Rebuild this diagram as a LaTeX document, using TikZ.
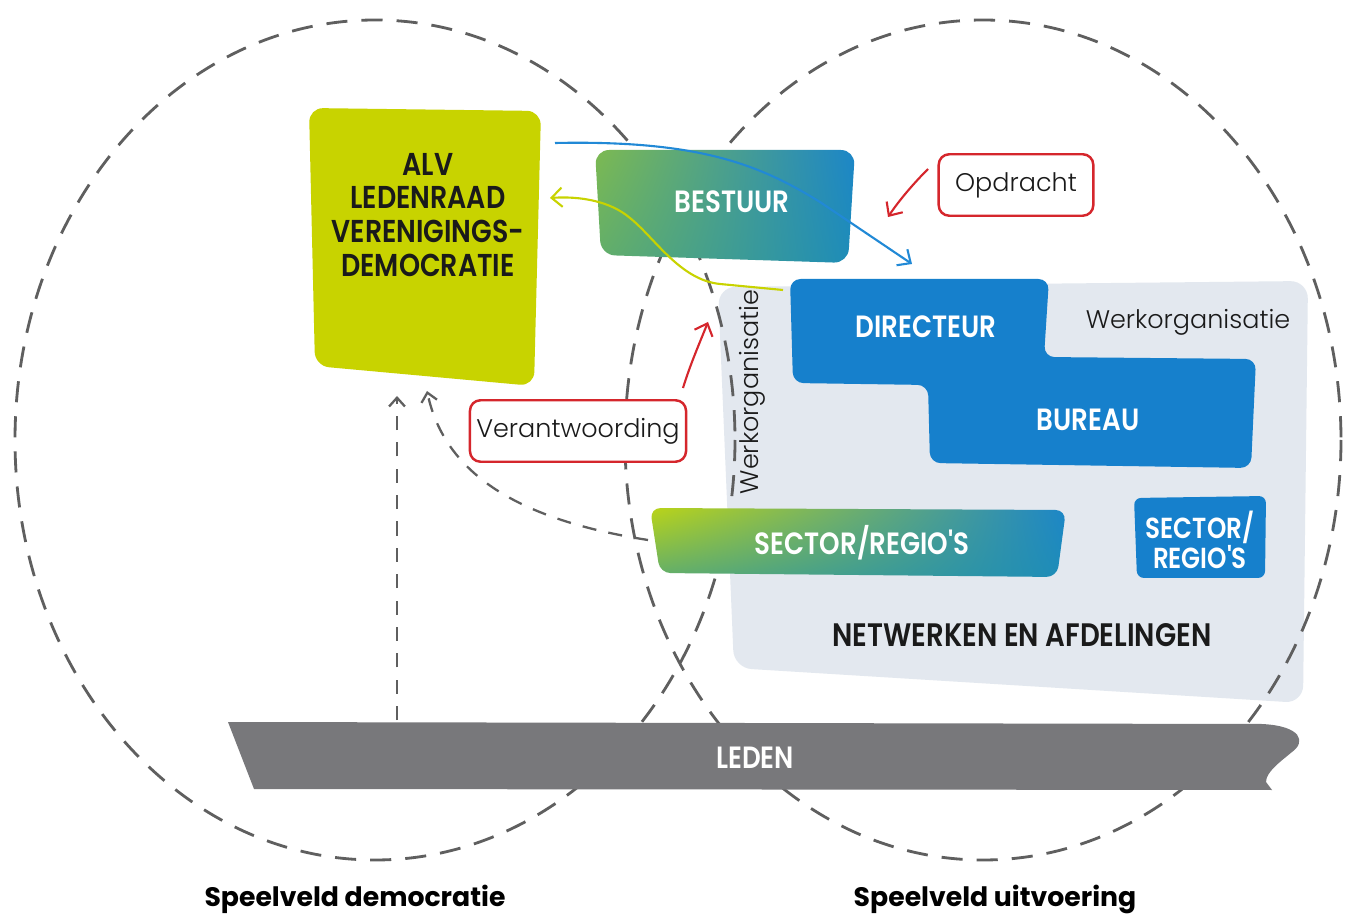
\documentclass[tikz,border=0pt]{standalone}
\usepackage{fontspec}
\setmainfont{Poppins}
\newfontfamily\capsfont[FakeStretch=0.85, BoldFont={Poppins SemiBold}]{Poppins}
\newfontfamily\thinfont{Poppins Light}
\usetikzlibrary{arrows.meta,shadings}
\definecolor{alvgreen}{HTML}{C8D300}
\definecolor{orgblue}{HTML}{1680CC}
\definecolor{orgbg}{HTML}{E3E8EF}
\definecolor{ledengrey}{HTML}{78787B}
\definecolor{dashgrey}{HTML}{5F5F5F}
\definecolor{notered}{HTML}{D5262C}
\definecolor{arrowblue}{HTML}{2189D6}
\definecolor{inkdark}{HTML}{1A1A1A}
\definecolor{gradlime}{HTML}{BAD418}
\definecolor{gradgreen}{HTML}{62AE6A}
\definecolor{gradteal}{HTML}{1D8CB9}
\definecolor{gradblue}{HTML}{1C86C8}
\tikzset{
  ring/.style={draw=dashgrey, line width=1.6pt, dash pattern=on 12pt off 8pt},
  upline/.style={draw=dashgrey, line width=1.3pt, dash pattern=on 8pt off 7pt,
                 -{Straight Barb[length=5pt,width=9pt]}},
  capwhite/.style={font=\capsfont\bfseries\fontsize{17.5}{19.3}\selectfont,
                   text=white, align=center},
  capdark/.style={capwhite, text=inkdark},
  notebox/.style={draw=notered, line width=1.4pt, fill=white, rounded corners=6pt,
                  font=\thinfont\fontsize{14.5}{17}\selectfont, text=inkdark,
                  minimum height=35pt, inner sep=0pt},
  ar/.style={-{Straight Barb[length=6pt,width=11pt]}, line width=1.2pt},
  fieldlbl/.style={font=\bfseries\fontsize{15.2}{17}\selectfont, text=black}
}

\begin{document}
\begin{tikzpicture}[x=0.02cm,y=-0.02cm]
  \useasboundingbox (0,0) rectangle (1350,915);
  \fill[white] (0,0) rectangle (1350,915);

  % werkorganisatie area
  \fill[orgbg, rounded corners=10pt] (718,287) -- (1308,281) -- (1303,703) -- (734,668) -- cycle;

  % the two playing fields
  \draw[ring] (375,440) ellipse [x radius=360, y radius=420];
  \draw[ring] (983,440) ellipse [x radius=358, y radius=420];

  % members bar
  \fill[ledengrey] (228,722) -- (1262,724) .. controls (1302,726) and (1306,742) .. (1292,752)
    .. controls (1280,762) and (1266,772) .. (1266,782) -- (1272,790) -- (254,789) -- cycle;
  \node[capwhite] (leden) at (755,758) {LEDEN};

  % democracy block
  \fill[alvgreen, rounded corners=8pt] (309,108) -- (541,111) -- (534,386) -- (315,366) -- cycle;
  \node[capdark, font=\capsfont\bfseries\fontsize{18}{19.3}\selectfont] (alv) at (428,215)
      {ALV\\LEDENRAAD\\VERENIGINGS-\\DEMOCRATIE};

  % board
  \shade[upper left=gradgreen!70!gradlime, lower left=gradgreen, upper right=gradblue,
         lower right=gradteal, rounded corners=8pt]
      (595,150) -- (855,150) -- (848,263) -- (601,255) -- cycle;
  \node[capwhite] (bestuur) at (732,202) {BESTUUR};

  % directeur and bureau
  \fill[orgblue, rounded corners=6pt] (790,279) -- (1049,279) -- (1044,357) -- (1256,359)
    -- (1251,468) -- (930,463) -- (928,385) -- (793,383) -- cycle;
  \node[capwhite] (directeur) at (926,327) {DIRECTEUR};
  \node[capwhite] (bureau) at (1088,420) {BUREAU};

  \node[font=\thinfont\fontsize{14.5}{17}\selectfont, text=inkdark] (werkh) at (1188,322) {Werkorganisatie};
  \node[font=\thinfont\fontsize{14.5}{17}\selectfont, text=inkdark, rotate=90] (werkv) at (752,392) {Werkorganisatie};

  % sectors and regions
  \shade[upper left=gradlime, lower left=gradgreen, upper right=gradblue,
         lower right=gradteal, rounded corners=6pt]
      (650,508) -- (1066,510) -- (1057,577) -- (660,573) -- cycle;
  \node[capwhite] (sectora) at (862,543) {SECTOR/REGIO'S};
  \fill[orgblue, rounded corners=4pt] (1134,498) -- (1266,496) -- (1265,578) -- (1137,578) -- cycle;
  \node[capwhite, font=\capsfont\bfseries\fontsize{16.5}{17.5}\selectfont] (sectorb) at (1200,540) {SECTOR/\\REGIO'S};

  \node[capdark, font=\capsfont\bfseries\fontsize{18.5}{19.3}\selectfont] (netwerk) at (1022,635) {NETWERKEN EN AFDELINGEN};

  % dashed lines up to the ALV
  \coordinate (ledentop) at (397,720);
  \coordinate (alvfoota) at (397,396);
  \coordinate (sectorleft) at (648,540);
  \coordinate (alvfootb) at (427,391);
  \draw[upline] (ledentop) -- (alvfoota);
  \draw[upline] (sectorleft) .. controls (520,520) and (445,475) .. (alvfootb);

  % task and feedback lines
  \coordinate (alvtop) at (555,143);
  \coordinate (dirtop) at (912,264);
  \coordinate (dirleft) at (783,290);
  \coordinate (alvright) at (550,198);
  \draw[ar, arrowblue] (alvtop) .. controls (700,140) and (760,165) .. (820,202) -- (dirtop);
  \draw[ar, alvgreen] (dirleft) -- (720,284) .. controls (680,280) and (655,238) .. (630,218)
    .. controls (610,201) and (580,196) .. (alvright);

  \node[notebox, minimum width=123pt] (verant) at (578,431) {Verantwoording};
  \node[notebox, minimum width=88pt] (opdracht) at (1016,185) {Opdracht};
  \coordinate (verantup) at (683,388);
  \coordinate (werktip) at (708,322);
  \coordinate (opdrstart) at (928,169);
  \coordinate (opdrtip) at (888,217);
  \draw[ar, notered] (verantup) .. controls (690,365) and (700,342) .. (werktip);
  \draw[ar, notered] (opdrstart) .. controls (912,185) and (898,202) .. (opdrtip);

  % field names
  \node[fieldlbl] (democratie) at (355,899) {Speelveld democratie};
  \node[fieldlbl] (uitvoering) at (995,899) {Speelveld uitvoering};
\end{tikzpicture}
\end{document}
